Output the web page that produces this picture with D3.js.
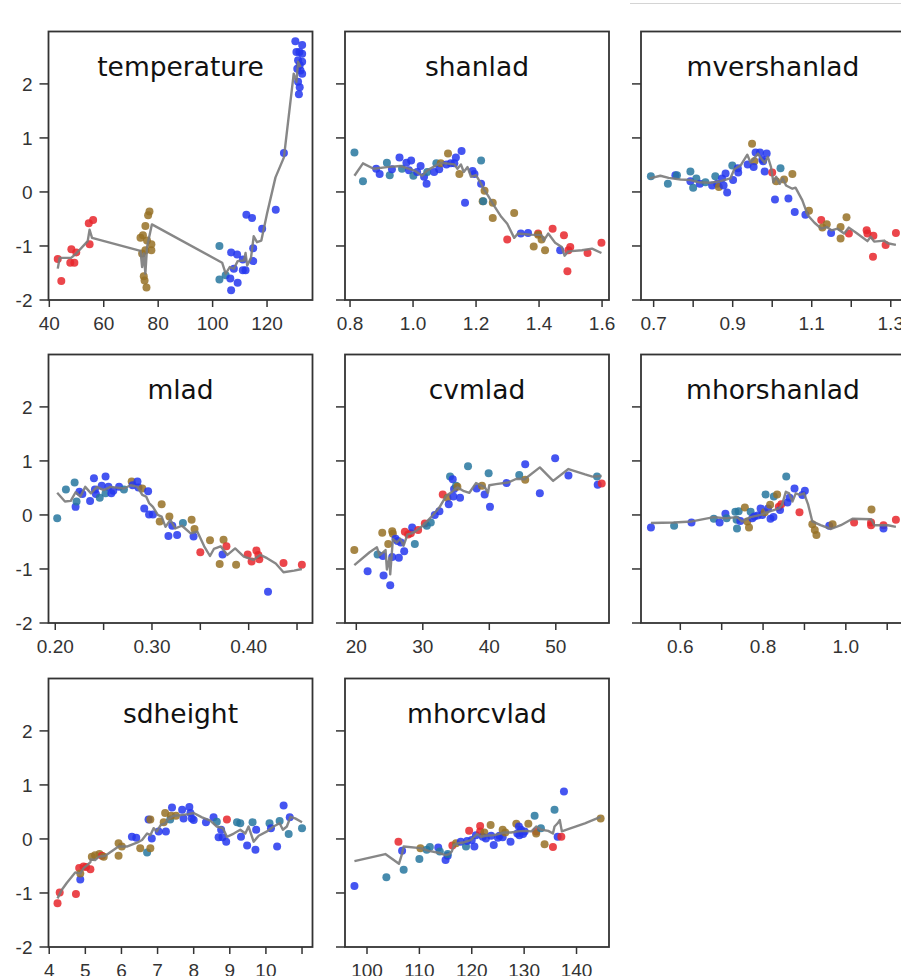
<!DOCTYPE html>
<html><head><meta charset="utf-8">
<script src="https://cdn.jsdelivr.net/npm/d3@7"></script>
<style>body{margin:0;background:#fff;} svg{display:block;}</style>
</head><body>
<svg id="chart" width="901" height="976"></svg>
<script>
// ---------- data ----------
const groupColors = ["#e8262b", "#967126", "#27779f", "#2437ee"]; // red, olive, teal, blue
const yDomain = [-2, 2.97];
const yTicks = [-2, -1, 0, 1, 2];

const titles = ["temperature", "shanlad", "mvershanlad", "mlad", "cvmlad", "mhorshanlad", "sdheight", "mhorcvlad"];
const xDomains = [[39.7, 136.7], [0.784, 1.622], [0.668, 1.336], [0.193, 0.466], [18.3, 58.0], [0.505, 1.143], [3.98, 11.29], [95.8, 146.2]];
const xTicks = [
  [40, 60, 80, 100, 120],
  [0.8, 1.0, 1.2, 1.4, 1.6],
  [0.7, 0.8, 0.9, 1.0, 1.1, 1.2, 1.3],
  [0.20, 0.25, 0.30, 0.35, 0.40, 0.45],
  [20, 30, 40, 50],
  [0.6, 0.7, 0.8, 0.9, 1.0, 1.1],
  [4, 5, 6, 7, 8, 9, 10, 11],
  [100, 110, 120, 130, 140]
];
const xTickLabels = [
  ["40", "60", "80", "100", "120"],
  ["0.8", "1.0", "1.2", "1.4", "1.6"],
  ["0.7", "", "0.9", "", "1.1", "", "1.3"],
  ["0.20", "", "0.30", "", "0.40", ""],
  ["20", "30", "40", "50"],
  ["0.6", "", "0.8", "", "1.0", ""],
  ["4", "5", "6", "7", "8", "9", "10", ""],
  ["100", "110", "120", "130", "140"]
];

// points: [x, y, group]
const temperaturePts = [[43.1,-1.24,0],[44.4,-1.65,0],[48.1,-1.06,0],[47.7,-1.31,0],[49.2,-1.31,0],[49.9,-1.12,0],[54.5,-0.58,0],[56.1,-0.52,0],[54.8,-0.97,0],
 [76.8,-0.36,1],[76.3,-0.43,1],[75.3,-0.63,1],[73.5,-0.85,1],[74.4,-0.80,1],[75.9,-0.90,1],[77.5,-0.97,1],[77.5,-1.08,1],[74.7,-1.56,1],[75.0,-1.64,1],[75.7,-1.77,1],[74.1,-1.14,1],[75.3,-1.08,1],
 [102.5,-1.0,2],[102.5,-1.62,2],[104.8,-1.54,2],
 [106.8,-1.12,3],[106.8,-1.82,3],[106.5,-1.60,3],[109.0,-1.16,3],[109.2,-1.68,3],[107.8,-1.42,3],[111.1,-1.25,3],[111.1,-1.45,3],[112.1,-1.45,3],[112.4,-0.42,3],[114.5,-0.48,3],[114.9,-1.04,3],[114.9,-1.28,3],[118.2,-0.68,3],[123.2,-0.33,3],[126.2,0.72,3],
 [130.4,2.79,3],[132.9,2.72,3],[130.8,2.59,3],[131.9,2.59,3],[132.9,2.56,3],[131.4,2.44,3],[132.9,2.41,3],[131.1,2.28,3],[132.3,2.25,3],[132.9,2.19,3],[131.4,2.04,3],[132.0,1.94,3],[131.7,1.81,3],[132.0,2.35,3]];
const temperatureLine = [[43.1,-1.42],[43.8,-1.22],[48.0,-1.22],[49.9,-1.14],[54.1,-0.91],[54.8,-0.70],[55.7,-0.85],[73.5,-1.09],[74.1,-1.39],[74.7,-1.14],[75.3,-1.51],[75.9,-1.02],[77.7,-0.60],
 [103.5,-1.31],[104.8,-1.51],[106.3,-1.39],[107.8,-1.42],[109.2,-1.28],[111.5,-1.27],[112.1,-1.13],[112.7,-1.36],[114.1,-1.22],[115.1,-0.82],[116.3,-0.93],[117.9,-0.90],[120.0,-0.40],[123.1,0.27],[126.2,0.64],[129.8,2.19],[130.8,2.04],[131.4,2.41],[132.3,2.31]];

const shanladPts = [[0.814,0.73,2],[0.841,0.20,2],[0.883,0.43,3],[0.894,0.33,3],[0.917,0.54,2],[0.926,0.31,2],[0.933,0.42,3],[0.957,0.64,3],[0.965,0.43,2],[0.979,0.54,3],[0.994,0.58,3],[0.987,0.40,3],[1.001,0.30,2],[1.013,0.37,3],[1.024,0.48,3],[1.035,0.28,3],[1.043,0.15,3],[1.045,0.37,2],[1.067,0.37,3],[1.074,0.53,2],[1.083,0.42,3],[1.088,0.53,1],[1.106,0.51,3],[1.111,0.71,1],[1.120,0.53,3],[1.131,0.53,3],[1.136,0.64,3],[1.154,0.76,3],[1.147,0.33,1],[1.165,-0.20,3],[1.189,0.39,3],[1.195,0.33,3],[1.216,0.58,2],[1.216,0.15,3],[1.227,0.02,1],[1.221,-0.17,1],[1.223,-0.17,2],[1.253,-0.20,1],[1.253,-0.48,1],[1.321,-0.39,1],[1.299,-0.88,0],[1.342,-0.77,3],[1.365,-0.76,3],[1.397,-0.77,0],[1.397,-0.79,1],[1.408,-0.88,1],[1.383,-1.01,1],[1.419,-1.08,1],[1.443,-0.68,0],[1.479,-0.80,0],[1.467,-1.08,3],[1.493,-1.08,0],[1.499,-1.02,0],[1.490,-1.47,0],[1.554,-1.13,0],[1.598,-0.94,0]];
const shanladLine = [[0.814,0.30],[0.841,0.53],[0.875,0.43],[0.917,0.46],[0.960,0.48],[1.003,0.40],[1.029,0.30],[1.045,0.40],[1.088,0.54],[1.131,0.51],[1.141,0.43],[1.152,0.51],[1.161,0.37],[1.173,0.46],[1.184,0.28],[1.200,0.31],[1.214,0.17],[1.227,0.03],[1.237,-0.06],[1.259,-0.27],[1.280,-0.46],[1.299,-0.59],[1.321,-0.85],[1.333,-0.77],[1.371,-0.79],[1.408,-0.80],[1.415,-0.90],[1.429,-0.77],[1.451,-0.94],[1.472,-1.02],[1.481,-1.18],[1.493,-1.10],[1.536,-1.08],[1.568,-1.05],[1.598,-1.13]];

const mvershanladPts = [[0.693,0.29,2],[0.736,0.15,2],[0.755,0.31,3],[0.759,0.31,2],[0.793,0.38,2],[0.793,0.20,3],[0.800,0.08,2],[0.808,0.25,2],[0.817,0.15,3],[0.831,0.18,2],[0.848,0.12,3],[0.856,0.29,2],[0.861,0.15,3],[0.865,0.09,1],[0.873,0.25,3],[0.877,0.12,3],[0.882,0.34,3],[0.886,-0.01,3],[0.899,0.49,2],[0.901,0.22,3],[0.913,0.44,3],[0.914,0.36,3],[0.938,0.51,3],[0.949,0.89,1],[0.955,0.57,1],[0.953,0.46,3],[0.958,0.73,3],[0.969,0.73,3],[0.977,0.57,3],[0.986,0.71,3],[0.981,0.38,3],[0.975,0.60,3],[1.000,0.36,0],[1.010,0.20,1],[1.021,0.44,2],[1.030,0.23,1],[1.051,0.33,1],[1.007,-0.14,3],[1.041,-0.12,3],[1.057,-0.37,3],[1.084,-0.42,3],[1.093,-0.35,1],[1.124,-0.52,0],[1.127,-0.66,1],[1.138,-0.60,1],[1.149,-0.76,3],[1.173,-0.65,1],[1.188,-0.47,1],[1.173,-0.86,1],[1.194,-0.77,0],[1.239,-0.71,0],[1.241,-0.77,0],[1.256,-0.81,0],[1.255,-1.20,0],[1.287,-0.98,0],[1.313,-0.76,0]];
const mvershanladLine = [[0.690,0.25],[0.717,0.30],[0.738,0.26],[0.768,0.23],[0.793,0.22],[0.814,0.18],[0.844,0.17],[0.869,0.20],[0.894,0.25],[0.904,0.42],[0.921,0.50],[0.937,0.69],[0.945,0.55],[0.955,0.63],[0.964,0.71],[0.972,0.62],[0.981,0.54],[0.989,0.65],[0.997,0.46],[1.003,0.18],[1.010,0.28],[1.019,0.15],[1.027,0.25],[1.035,0.12],[1.051,0.06],[1.059,0.08],[1.076,-0.15],[1.090,-0.43],[1.107,-0.57],[1.124,-0.68],[1.138,-0.65],[1.150,-0.71],[1.165,-0.68],[1.182,-0.77],[1.194,-0.66],[1.215,-0.77],[1.241,-0.91],[1.249,-0.83],[1.258,-0.92],[1.283,-0.90],[1.292,-0.95],[1.313,-0.98]];

const mladPts = [[0.202,-0.06,2],[0.211,0.47,2],[0.220,0.60,2],[0.221,0.15,3],[0.222,0.25,2],[0.225,0.43,3],[0.228,0.39,3],[0.236,0.26,3],[0.240,0.68,3],[0.241,0.47,3],[0.242,0.39,3],[0.246,0.32,2],[0.248,0.54,3],[0.252,0.71,3],[0.252,0.40,2],[0.255,0.52,3],[0.258,0.40,3],[0.260,0.45,3],[0.266,0.52,3],[0.271,0.47,2],[0.279,0.62,1],[0.280,0.55,3],[0.285,0.62,3],[0.286,0.51,3],[0.290,0.49,1],[0.296,0.44,3],[0.292,0.12,3],[0.297,0.01,3],[0.301,0.01,3],[0.310,0.20,1],[0.308,-0.12,1],[0.318,-0.03,1],[0.317,-0.39,3],[0.321,-0.20,3],[0.326,-0.37,3],[0.332,-0.15,2],[0.341,-0.09,1],[0.344,-0.26,1],[0.343,-0.40,3],[0.350,-0.69,0],[0.360,-0.47,1],[0.370,-0.91,1],[0.374,-0.46,1],[0.377,-0.58,0],[0.373,-0.73,3],[0.387,-0.92,1],[0.399,-0.73,0],[0.403,-0.86,0],[0.408,-0.66,0],[0.410,-0.74,0],[0.411,-0.82,0],[0.420,-1.42,3],[0.436,-0.89,0],[0.455,-0.92,0]];
const mladLine = [[0.202,0.41],[0.210,0.25],[0.216,0.26],[0.221,0.42],[0.226,0.34],[0.231,0.52],[0.237,0.40],[0.243,0.52],[0.250,0.46],[0.257,0.52],[0.271,0.49],[0.278,0.55],[0.285,0.52],[0.290,0.37],[0.294,0.34],[0.297,0.22],[0.301,0.15],[0.306,0.00],[0.310,-0.03],[0.314,-0.22],[0.319,-0.09],[0.324,-0.25],[0.331,-0.20],[0.340,-0.34],[0.347,-0.31],[0.354,-0.58],[0.360,-0.76],[0.364,-0.63],[0.371,-0.58],[0.378,-0.74],[0.386,-0.62],[0.395,-0.77],[0.405,-0.83],[0.412,-0.74],[0.419,-0.80],[0.428,-0.90],[0.436,-1.06],[0.447,-1.03],[0.455,-1.00]];

const cvmladPts = [[19.7,-0.65,1],[21.7,-1.04,3],[23.2,-0.73,2],[23.9,-0.33,1],[24.0,-0.76,3],[24.1,-1.12,3],[24.8,-0.54,1],[25.1,-1.30,3],[25.4,-0.78,3],[25.4,-0.30,1],[25.5,-0.35,1],[25.9,-0.44,3],[26.2,-0.48,3],[26.4,-0.79,3],[26.7,-0.51,3],[27.2,-0.67,3],[27.3,-0.31,0],[27.8,-0.36,0],[28.2,-0.34,0],[28.4,-0.23,3],[28.8,-0.54,2],[29.3,-0.28,0],[30.3,-0.16,0],[30.6,-0.20,2],[31.2,-0.14,2],[31.8,0.00,3],[32.5,0.07,3],[33.0,0.38,0],[33.7,0.32,1],[33.9,0.20,3],[34.1,0.71,2],[34.5,0.66,3],[34.7,0.48,3],[34.6,0.34,3],[35.0,0.54,2],[35.2,0.52,1],[35.6,0.32,3],[36.8,0.90,2],[38.1,0.49,3],[38.9,0.54,1],[39.3,0.38,3],[39.9,0.77,2],[40.1,0.15,3],[42.6,0.59,3],[44.5,0.74,2],[45.4,0.94,3],[45.4,0.65,1],[47.6,0.40,3],[49.9,1.05,3],[51.9,0.73,3],[56.2,0.71,2],[56.3,0.56,3],[56.9,0.58,0]];
const cvmladLine = [[19.7,-0.93],[22.0,-0.69],[23.1,-0.60],[23.5,-0.75],[24.4,-0.65],[24.6,-1.01],[25.0,-0.79],[25.1,-1.10],[25.5,-0.45],[26.1,-0.51],[26.6,-0.44],[27.1,-0.57],[27.7,-0.36],[28.3,-0.34],[28.9,-0.30],[29.7,-0.23],[30.7,-0.11],[31.4,-0.02],[32.5,0.14],[33.5,0.35],[34.5,0.44],[35.2,0.51],[36.2,0.44],[37.0,0.41],[38.0,0.59],[39.3,0.52],[39.8,0.41],[40.0,0.55],[41.0,0.57],[42.8,0.60],[44.1,0.67],[45.3,0.66],[47.6,0.88],[49.6,0.63],[51.9,0.85],[54.4,0.75],[55.5,0.71],[56.9,0.72]];

const mhorshanladPts = [[0.529,-0.23,3],[0.585,-0.20,2],[0.627,-0.14,3],[0.681,-0.07,2],[0.695,-0.14,3],[0.709,0.02,3],[0.712,-0.06,2],[0.733,0.06,2],[0.736,-0.09,2],[0.737,-0.25,2],[0.741,0.07,2],[0.745,-0.11,3],[0.756,0.14,1],[0.762,-0.12,1],[0.766,-0.23,1],[0.770,0.06,2],[0.774,-0.06,3],[0.779,-0.03,3],[0.787,-0.01,3],[0.794,0.12,3],[0.798,0.00,3],[0.804,0.05,1],[0.806,0.38,2],[0.812,0.12,3],[0.817,0.19,1],[0.818,-0.07,3],[0.825,-0.04,3],[0.826,0.34,2],[0.834,0.38,1],[0.838,0.15,0],[0.841,0.09,3],[0.844,0.20,0],[0.856,0.71,2],[0.859,0.23,3],[0.864,0.32,3],[0.876,0.49,3],[0.888,0.05,0],[0.895,0.37,3],[0.901,0.45,3],[0.919,-0.17,1],[0.925,-0.28,1],[0.929,-0.37,1],[0.960,-0.20,3],[0.968,-0.17,1],[1.020,-0.14,0],[1.062,0.10,1],[1.061,-0.14,0],[1.061,-0.19,0],[1.091,-0.19,0],[1.091,-0.25,3],[1.121,-0.09,0]];
const mhorshanladLine = [[0.529,-0.15],[0.584,-0.14],[0.628,-0.12],[0.681,-0.04],[0.709,-0.06],[0.737,-0.04],[0.749,-0.12],[0.770,-0.04],[0.794,0.00],[0.814,0.06],[0.826,0.09],[0.838,0.12],[0.846,0.19],[0.855,0.43],[0.863,0.40],[0.871,0.25],[0.879,0.40],[0.889,0.37],[0.899,0.40],[0.909,0.19],[0.919,-0.12],[0.939,-0.19],[0.964,-0.26],[0.988,-0.19],[1.016,-0.07],[1.061,-0.08],[1.069,-0.19],[1.102,-0.19],[1.121,-0.22]];

const sdheightPts = [[4.23,-1.19,0],[4.29,-0.99,0],[4.74,-1.02,0],[4.83,-0.54,0],[4.86,-0.75,3],[4.86,-0.64,1],[4.95,-0.51,0],[5.02,-0.52,0],[5.14,-0.56,0],[5.18,-0.33,1],[5.27,-0.30,1],[5.39,-0.28,1],[5.46,-0.31,0],[5.51,-0.33,1],[5.92,-0.08,1],[5.92,-0.31,1],[6.01,-0.14,1],[6.29,0.04,3],[6.41,0.02,3],[6.52,-0.17,1],[6.71,-0.25,2],[6.75,0.36,3],[6.80,0.36,1],[6.80,-0.17,1],[6.84,0.01,3],[7.03,0.14,3],[7.17,0.31,1],[7.21,0.48,1],[7.23,0.14,3],[7.35,0.36,2],[7.37,0.43,1],[7.40,0.58,3],[7.51,0.43,1],[7.68,0.54,3],[7.72,0.38,3],[7.88,0.59,3],[7.91,0.48,3],[7.95,0.38,3],[8.00,0.35,3],[8.34,0.31,3],[8.55,0.40,3],[8.64,0.32,2],[8.69,0.03,3],[8.76,0.17,3],[8.80,0.03,3],[8.90,-0.05,3],[8.92,0.36,0],[9.20,0.31,2],[9.29,0.29,2],[9.31,0.04,3],[9.48,-0.12,3],[9.63,0.31,2],[9.71,-0.20,3],[9.73,0.17,3],[10.10,0.29,2],[10.14,0.20,3],[10.31,-0.14,3],[10.38,0.33,2],[10.49,0.62,3],[10.63,0.09,2],[10.66,0.40,3],[11.00,0.20,2]];
const sdheightLine = [[4.23,-1.10],[4.35,-0.94],[4.49,-0.81],[4.72,-0.62],[4.86,-0.64],[4.95,-0.54],[5.06,-0.48],[5.14,-0.43],[5.15,-0.38],[5.27,-0.39],[5.37,-0.33],[5.55,-0.31],[5.92,-0.14],[6.15,-0.14],[6.43,-0.07],[6.57,-0.02],[6.71,0.10],[6.80,0.07],[6.89,0.20],[6.98,0.14],[7.09,0.26],[7.21,0.29],[7.31,0.38],[7.44,0.43],[7.63,0.44],[7.86,0.46],[8.00,0.48],[8.23,0.40],[8.46,0.34],[8.64,0.23],[8.81,0.20],[8.92,0.04],[9.11,0.10],[9.29,0.17],[9.43,0.10],[9.52,0.23],[9.66,-0.05],[9.80,0.06],[10.03,0.14],[10.21,0.23],[10.38,0.29],[10.47,0.17],[10.58,0.23],[10.68,0.41],[10.81,0.38],[11.00,0.31]];

const mhorcvladPts = [[97.6,-0.87,3],[103.7,-0.71,2],[106.0,-0.05,0],[106.7,-0.22,3],[107.0,-0.57,2],[110.0,-0.37,2],[110.2,-0.17,1],[111.4,-0.20,2],[112.0,-0.15,2],[113.6,-0.16,3],[113.9,-0.23,2],[115.0,-0.39,3],[115.4,-0.31,3],[115.4,-0.28,2],[116.3,-0.12,0],[117.0,-0.08,1],[117.9,-0.05,3],[118.9,-0.14,2],[119.1,-0.04,3],[119.5,0.15,0],[120.0,-0.02,3],[120.5,-0.14,3],[120.8,0.07,3],[121.6,0.24,0],[121.6,0.14,0],[122.1,0.04,3],[122.4,0.12,1],[122.7,0.01,3],[123.6,0.26,1],[123.7,0.06,3],[124.2,-0.11,3],[125.0,0.02,3],[125.3,0.06,3],[125.9,0.17,1],[125.9,0.03,3],[126.4,0.12,1],[127.4,-0.05,3],[128.5,0.28,1],[128.7,0.10,3],[129.0,0.23,3],[129.1,0.07,3],[129.4,0.17,3],[130.1,0.14,3],[129.8,0.09,3],[130.8,0.28,1],[132.0,0.43,2],[132.3,0.14,0],[132.3,0.10,1],[133.2,0.20,2],[133.9,-0.10,1],[135.5,-0.15,0],[135.8,0.54,2],[136.4,0.04,3],[137.1,0.04,0],[137.6,0.88,3],[144.6,0.38,1]];
const mhorcvladLine = [[97.6,-0.41],[103.5,-0.28],[106.1,-0.46],[106.7,-0.27],[107.0,-0.14],[110.2,-0.17],[111.8,-0.22],[113.4,-0.25],[115.0,-0.30],[115.7,-0.28],[116.2,-0.23],[116.6,-0.11],[117.4,-0.08],[118.6,-0.06],[119.8,-0.02],[121.0,0.09],[121.8,0.04],[122.7,0.06],[124.3,0.07],[126.2,0.12],[127.5,0.12],[128.8,0.14],[130.1,0.15],[131.4,0.14],[132.3,0.23],[133.3,0.17],[134.6,0.15],[135.5,0.10],[135.8,0.23],[136.4,0.29],[136.8,0.35],[137.2,0.14],[138.4,0.18],[141.6,0.29],[144.6,0.41]];

const panelPoints = [temperaturePts, shanladPts, mvershanladPts, mladPts, cvmladPts, mhorshanladPts, sdheightPts, mhorcvladPts];
const panelLines = [temperatureLine, shanladLine, mvershanladLine, mladLine, cvmladLine, mhorshanladLine, sdheightLine, mhorcvladLine];

// ---------- layout ----------
const colLefts = [48.5, 345, 641];
const rowTops = [31.5, 354.5, 678.5];
const pw = 264, ph = 268.5;

const svg = d3.select("#chart");
svg.append("rect").attr("width", 901).attr("height", 976).attr("fill", "#fff");
svg.append("line").attr("x1", 630).attr("x2", 901).attr("y1", 3.5).attr("y2", 3.5)
  .attr("stroke", "#d4d4d4").attr("stroke-width", 1);

const tickFont = "'Liberation Sans', Arial, Helvetica, sans-serif";
const titleFont = "'DejaVu Sans', Verdana, sans-serif";
const axisColor = "#333";

titles.forEach((title, i) => {
  const col = i % 3, row = Math.floor(i / 3);
  const x0 = colLefts[col], y0 = rowTops[row];
  const g = svg.append("g").attr("transform", `translate(${x0},${y0})`);
  const x = d3.scaleLinear().domain(xDomains[i]).range([0, pw]);
  const y = d3.scaleLinear().domain(yDomain).range([ph, 0]);

  const clipId = "clip" + i;
  g.append("clipPath").attr("id", clipId).append("rect").attr("width", pw).attr("height", ph);

  // y ticks
  yTicks.forEach(t => {
    g.append("line").attr("x1", -9).attr("x2", 0).attr("y1", y(t)).attr("y2", y(t))
      .attr("stroke", axisColor).attr("stroke-width", 1.5);
    if (col === 0) {
      g.append("text").attr("x", -16).attr("y", y(t)).attr("dy", "0.36em")
        .attr("text-anchor", "end").attr("font-family", tickFont).attr("font-size", 19)
        .attr("fill", "#333").text(String(t));
    }
  });
  // x ticks
  xTicks[i].forEach((t, k) => {
    g.append("line").attr("x1", x(t)).attr("x2", x(t)).attr("y1", ph).attr("y2", ph + 7)
      .attr("stroke", axisColor).attr("stroke-width", 1.5);
    const lab = xTickLabels[i][k];
    if (lab) {
      g.append("text").attr("x", x(t)).attr("y", ph + 30)
        .attr("text-anchor", "middle").attr("font-family", tickFont).attr("font-size", 19)
        .attr("fill", "#333").text(lab);
    }
  });

  const plot = g.append("g").attr("clip-path", `url(#${clipId})`);
  plot.selectAll("circle").data(panelPoints[i]).join("circle")
    .attr("cx", d => x(d[0])).attr("cy", d => y(d[1])).attr("r", 4)
    .attr("fill", d => groupColors[d[2]]).attr("fill-opacity", 0.85);

  const line = d3.line().x(d => x(d[0])).y(d => y(d[1]));
  plot.append("path").attr("d", line(panelLines[i])).attr("fill", "none")
    .attr("stroke", "#7a7a7a").attr("stroke-width", 2.4).attr("stroke-opacity", 0.9)
    .attr("stroke-linejoin", "round");

  // frame
  g.append("rect").attr("width", pw).attr("height", ph).attr("fill", "none")
    .attr("stroke", axisColor).attr("stroke-width", 1.8);

  // title
  g.append("text").attr("x", pw / 2).attr("y", 44).attr("text-anchor", "middle")
    .attr("font-family", titleFont).attr("font-size", 26.5).attr("fill", "#111").text(title);
});
</script>
</body></html>
